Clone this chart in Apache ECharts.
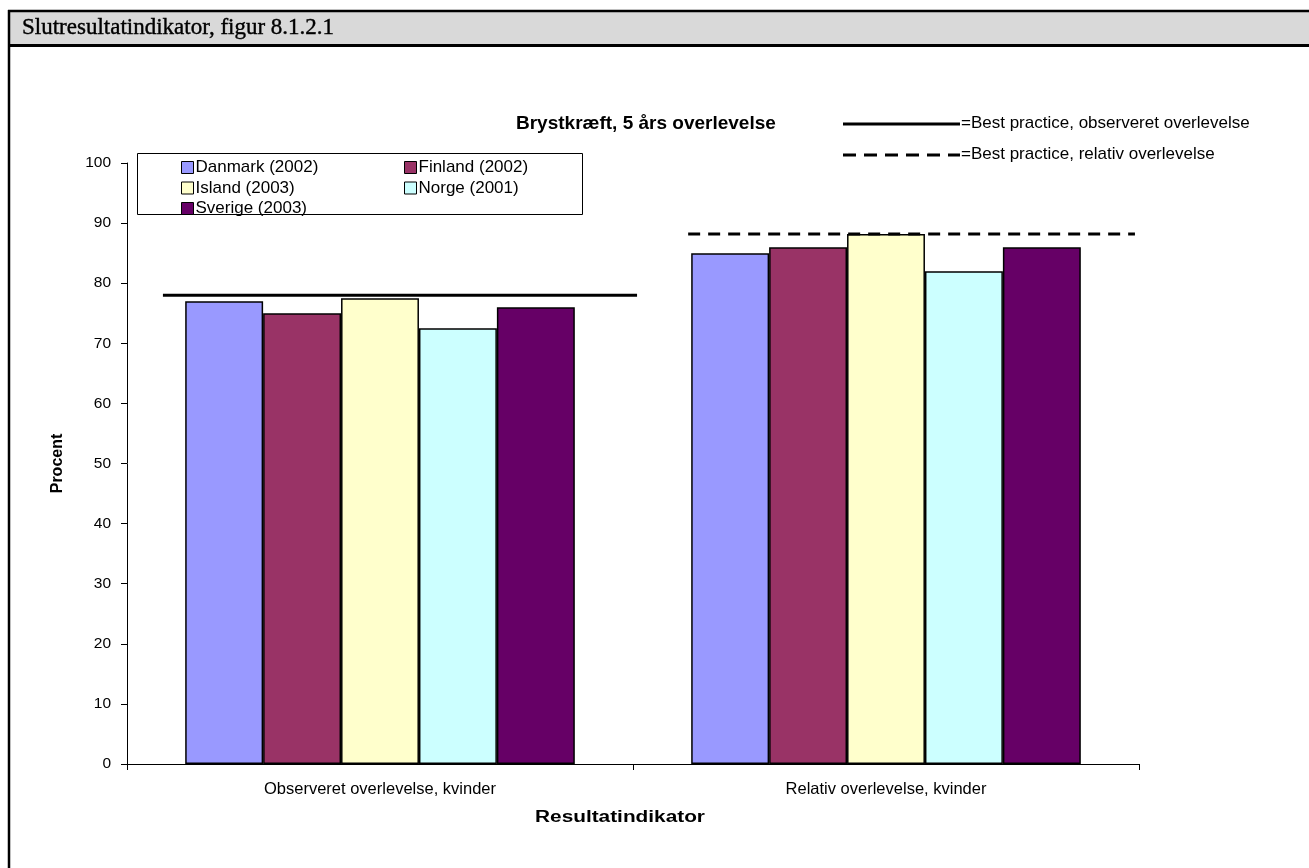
<!DOCTYPE html>
<html>
<head>
<meta charset="utf-8">
<script src="https://cdn.jsdelivr.net/npm/echarts@6/dist/echarts.min.js"></script>
<style>
html,body{margin:0;padding:0;background:#fff;}
#c{width:1309px;height:868px;}
</style>
</head>
<body>
<div id="c"></div>
<script>
// ---- data ----
const categories = ['Observeret overlevelse, kvinder', 'Relativ overlevelse, kvinder'];
const seriesNames = ['Danmark (2002)', 'Finland (2002)', 'Island (2003)', 'Norge (2001)', 'Sverige (2003)'];
const danmark = [77.0, 85.0];
const finland = [75.0, 86.0];
const island = [77.5, 88.2];
const norge = [72.5, 82.0];
const sverige = [76.0, 86.0];
const bestObserved = 78.0;
const bestRelative = 88.2;
const yTicks = [0, 10, 20, 30, 40, 50, 60, 70, 80, 90, 100];
// extent of best-practice lines along the hidden numeric x scale (0..2 = the two category bands)
const bestObservedSpan = [0.071, 1.008];
const bestRelativeSpan = [1.109, 1.992];

const colors = ['#9999FF', '#993366', '#FFFFCC', '#CCFFFF', '#660066'];
const values = [danmark, finland, island, norge, sverige];

const chart = echarts.init(document.getElementById('c'), null, {renderer: 'canvas'});

const barSeries = seriesNames.map((n, i) => ({
  name: n,
  type: 'bar',
  xAxisIndex: 0,
  yAxisIndex: 0,
  data: values[i],
  barGap: '0%',
  barCategoryGap: '23%',
  itemStyle: {color: colors[i], borderColor: '#000', borderWidth: 1.5},
  emphasis: {disabled: true},
  animation: false
}));

const lineSeries = [
  {
    name: 'bestObs', type: 'line', xAxisIndex: 1, yAxisIndex: 0,
    data: [[bestObservedSpan[0], bestObserved], [bestObservedSpan[1], bestObserved]],
    symbol: 'none', lineStyle: {color: '#000', width: 3, type: 'solid'}, animation: false, z: 5
  },
  {
    name: 'bestRel', type: 'line', xAxisIndex: 1, yAxisIndex: 0,
    data: [[bestRelativeSpan[0], bestRelative], [bestRelativeSpan[1], bestRelative]],
    symbol: 'none', lineStyle: {color: '#000', width: 3, type: [12, 8]}, animation: false, z: 5
  }
];

const SANS = 'Arial, "Liberation Sans", sans-serif';
const legendText = {fontFamily: SANS, fontSize: 17, lineHeight: 17, color: '#000', padding: [0, 0, 0, -3]};

const option = {
  backgroundColor: '#fff',
  animation: false,
  grid: {left: 127, right: 170, top: 163, bottom: 104, containLabel: false},
  legend: [
    {
      data: [seriesNames[0], seriesNames[2], seriesNames[4]],
      orient: 'vertical', left: 176, top: 154, itemGap: 3.5,
      itemWidth: 12, itemHeight: 12, icon: 'rect',
      itemStyle: {borderColor: '#000', borderWidth: 1},
      textStyle: legendText,
      selectedMode: false
    },
    {
      data: [seriesNames[1], seriesNames[3]],
      orient: 'vertical', left: 399, top: 154, itemGap: 3.5,
      itemWidth: 12, itemHeight: 12, icon: 'rect',
      itemStyle: {borderColor: '#000', borderWidth: 1},
      textStyle: legendText,
      selectedMode: false
    }
  ],
  xAxis: [
    {
      type: 'category',
      data: categories,
      axisLine: {lineStyle: {color: '#000', width: 1}},
      axisTick: {show: true, alignWithLabel: false, length: 6, lineStyle: {color: '#000'}},
      axisLabel: {fontFamily: SANS, fontSize: 16.5, color: '#000', margin: 17}
    },
    {
      type: 'value', min: 0, max: 2, show: false
    }
  ],
  yAxis: {
    type: 'value',
    min: yTicks[0],
    max: yTicks[yTicks.length - 1],
    interval: 10,
    axisLine: {show: true, lineStyle: {color: '#000', width: 1}},
    axisTick: {show: true, length: 6, lineStyle: {color: '#000'}},
    splitLine: {show: false},
    axisLabel: {fontFamily: SANS, fontSize: 15.5, color: '#000', margin: 16},
    name: 'Procent',
    nameLocation: 'middle',
    nameGap: 61,
    nameRotate: 90,
    nameTextStyle: {fontFamily: SANS, fontSize: 16, fontWeight: 'bold', color: '#000'}
  },
  series: barSeries.concat(lineSeries),
  graphic: [
    // header band
    {type: 'rect', shape: {x: 9, y: 11, width: 1300, height: 34}, style: {fill: '#d9d9d9', stroke: null}, z: 0},
    {type: 'line', shape: {x1: 8, y1: 11, x2: 1309, y2: 11}, style: {stroke: '#000', lineWidth: 2.5}},
    {type: 'line', shape: {x1: 8, y1: 45.5, x2: 1309, y2: 45.5}, style: {stroke: '#000', lineWidth: 3}},
    {type: 'line', shape: {x1: 9, y1: 10, x2: 9, y2: 868}, style: {stroke: '#000', lineWidth: 2.5}},
    {type: 'text', x: 22, y: 28,
      style: {text: 'Slutresultatindikator, figur 8.1.2.1', font: '23px "Liberation Serif", "DejaVu Serif", serif', fill: '#000', verticalAlign: 'middle', stroke: '#000', lineWidth: 0.4}},
    // chart title
    {type: 'text', x: 516, y: 124,
      style: {text: 'Brystkræft, 5 års overlevelse', font: 'bold 19px ' + SANS, fill: '#000', verticalAlign: 'middle'}},
    // best-practice key
    {type: 'line', shape: {x1: 843, y1: 124, x2: 960, y2: 124}, style: {stroke: '#000', lineWidth: 3}},
    {type: 'text', x: 961, y: 123,
      style: {text: '=Best practice, observeret overlevelse', font: '17px ' + SANS, fill: '#000', verticalAlign: 'middle'}},
    {type: 'line', shape: {x1: 843, y1: 155, x2: 960, y2: 155}, style: {stroke: '#000', lineWidth: 3, lineDash: [13, 8]}},
    {type: 'text', x: 961, y: 154,
      style: {text: '=Best practice, relativ overlevelse', font: '17px ' + SANS, fill: '#000', verticalAlign: 'middle'}},
    // x-axis name
    {type: 'text', x: 620, y: 818, scaleX: 1.3, originX: 0, originY: 0,
      style: {text: 'Resultatindikator', font: 'bold 16px ' + SANS, fill: '#000', align: 'center', verticalAlign: 'middle'}},
    // legend box
    {type: 'rect', shape: {x: 137.5, y: 153.5, width: 445, height: 61}, style: {fill: null, stroke: '#000', lineWidth: 1}, z: 1}
  ]
};
chart.setOption(option);
</script>
</body>
</html>
